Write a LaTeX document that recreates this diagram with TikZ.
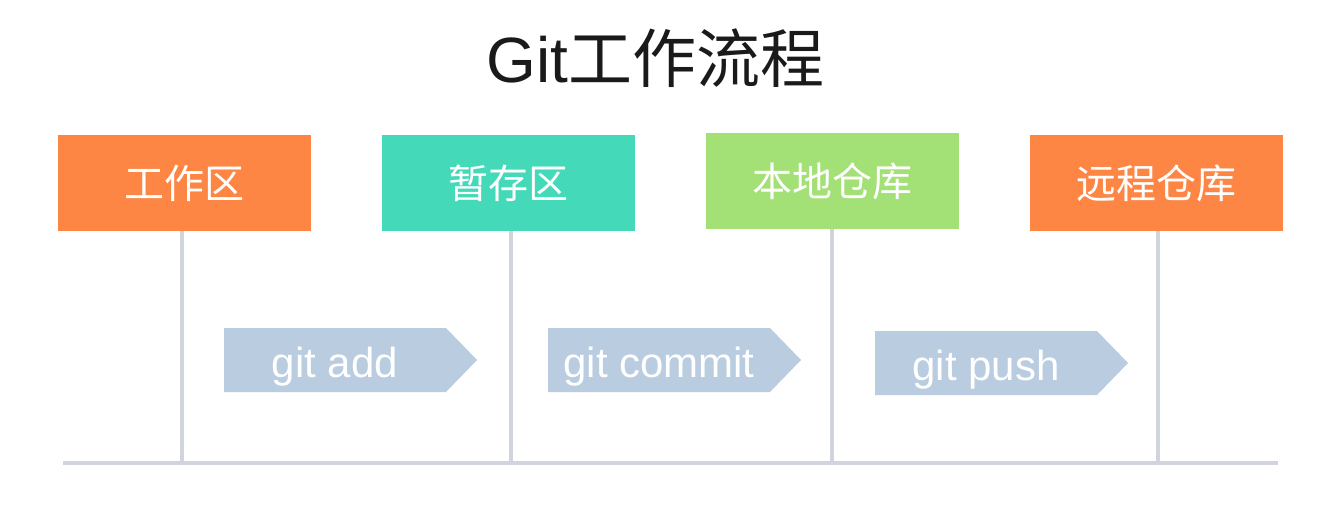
\documentclass[tikz,border=0pt]{standalone}
\usepackage{fontspec}
\setmainfont{Liberation Sans}
\newfontfamily\cjk{Noto Sans CJK SC}
\definecolor{boxorange}{HTML}{FD8645}
\definecolor{boxteal}{HTML}{43D9B9}
\definecolor{boxgreen}{HTML}{A3E076}
\definecolor{arrowfill}{HTML}{B9CCE0}
\definecolor{linegray}{HTML}{D0D5DD}
\definecolor{titlecol}{HTML}{1A1A1A}
\tikzset{
  stagebox/.style={minimum width=253pt, minimum height=96pt, inner sep=0pt, draw=none,
    text=white, font=\cjk\fontsize{40pt}{48pt}\selectfont},
  cmdlabel/.style={anchor=base, inner sep=0pt, text=white, font=\fontsize{42pt}{50pt}\selectfont},
  timeline/.style={draw=linegray, line width=3.5pt},
  gitarrow/.pic={\fill[arrowfill] (0,0) -- (222,0) -- (253,32) -- (222,64) -- (0,64) -- cycle;}
}
\begin{document}
\begin{tikzpicture}[x=1pt,y=-1pt]
\fill[white] (0,0) rectangle (1338,508);
\useasboundingbox (0,0) rectangle (1338,508);

% title
\node[anchor=base, inner sep=0pt, text=titlecol] (title) at (655.5,83)
  {\fontsize{64pt}{76pt}\selectfont Git{\cjk 工作流程}};

% stage boxes
\node[stagebox, fill=boxorange] (work) at (184.5,183) {工作区};
\node[stagebox, fill=boxteal]   (stage) at (508.5,183) {暂存区};
\node[stagebox, fill=boxgreen]  (local) at (832.5,181) {本地仓库};
\node[stagebox, fill=boxorange] (remote) at (1156.5,183) {远程仓库};

% baseline
\coordinate (baseL) at (63,463);
\coordinate (baseR) at (1278,463);
\draw[timeline] (baseL) -- (baseR);

% vertical lines
\draw[timeline] ([xshift=-2.5pt]work.south) -- ([xshift=-2.5pt]work.south |- baseL);
\draw[timeline] ([xshift=2.5pt]stage.south) -- ([xshift=2.5pt]stage.south |- baseL);
\draw[timeline] ([xshift=-0.5pt]local.south) -- ([xshift=-0.5pt]local.south |- baseL);
\draw[timeline] ([xshift=1.5pt]remote.south) -- ([xshift=1.5pt]remote.south |- baseL);

% command arrows
\pic at (224,328) {gitarrow};
\node[cmdlabel] (add) at (335,377) {git add};
\pic at (548,328) {gitarrow};
\node[cmdlabel] (commit) at (659,377) {git commit};
\pic at (875,331) {gitarrow};
\node[cmdlabel] (push) at (986,380) {git push};
\end{tikzpicture}
\end{document}
